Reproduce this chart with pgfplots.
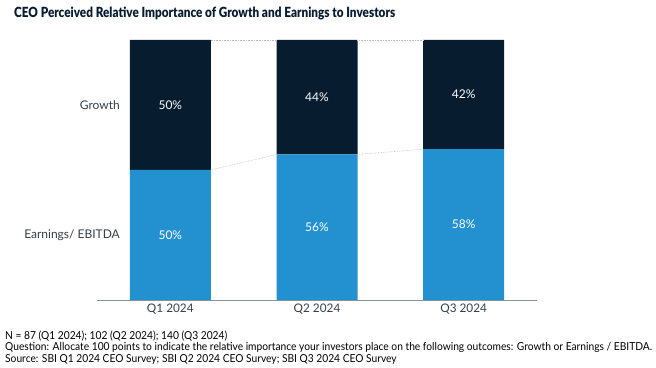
\documentclass[border=0pt]{standalone}
\usepackage{pgfplots}
\pgfplotsset{compat=1.18}
\usepackage{fontspec}
\setmainfont{Lato}
\newfontfamily\condfont[FakeStretch=0.93]{Lato}
\newfontfamily\titlefont[FakeStretch=0.84]{Lato Black}
\definecolor{navy}{HTML}{081C30}
\definecolor{sbiblue}{HTML}{2391D0}
\definecolor{txtgray}{HTML}{333F48}
\definecolor{axgray}{HTML}{8A939C}
\definecolor{conn}{HTML}{BBBBBB}
\begin{document}
\begin{tikzpicture}[x=1pt,y=1pt]
\path[use as bounding box] (0,0) rectangle (656,367);
\pgfplotsset{
  base/.style={
    at={(97pt,67pt)}, anchor=south west,
    width=440pt, height=260pt, scale only axis,
    xmin=-0.5, xmax=2.5, ymin=0, ymax=100, clip=false,
  }
}
\begin{axis}[base,
  ybar stacked, bar width=81pt,
  axis x line*=bottom, axis y line=none,
  x axis line style={draw=axgray, line width=0.9pt, -},
  xtick={0,1,2}, xticklabels={Q1 2024,Q2 2024,Q3 2024},
  xtick style={draw=none},
  xticklabel style={font=\fontsize{11.8}{13}\selectfont, text=txtgray, yshift=0pt},
  ytick=\empty,
]
\addplot[fill=sbiblue, draw=none] coordinates {(0,50) (1,56) (2,58)};
\addplot[fill=navy, draw=none] coordinates {(0,50) (1,44) (2,42)};
\end{axis}
\begin{axis}[base, hide axis]
% connectors
\addplot[conn, densely dotted, line width=0.6pt] coordinates {(0.276,100) (0.724,100)};
\addplot[conn, densely dotted, line width=0.6pt] coordinates {(1.276,100) (1.724,100)};
\addplot[conn, densely dotted, line width=0.6pt] coordinates {(0.276,50) (0.724,56)};
\addplot[conn, densely dotted, line width=0.6pt] coordinates {(1.276,56) (1.724,58)};
% data labels
\addplot[draw=none, mark=none, nodes near coords, point meta=explicit symbolic,
  every node near coord/.style={anchor=center, text=white, font=\fontsize{12}{13}\selectfont}]
  coordinates {(0,75)[50\%] (1,78)[44\%] (2,79)[42\%] (0,25)[50\%] (1,28)[56\%] (2,29)[58\%]};
% series labels
\addplot[draw=none, mark=none, nodes near coords, point meta=explicit symbolic,
  every node near coord/.style={anchor=east, inner xsep=0pt, text=txtgray, font=\fontsize{12}{13}\selectfont}]
  coordinates {(-0.343,75)[Growth] (-0.343,25)[Earnings/ EBITDA]};
\end{axis}
\node[anchor=west, inner sep=0pt, text=navy, font=\titlefont\fontsize{14}{16}\selectfont] at (14,354) {CEO Perceived Relative Importance of Growth and Earnings to Investors};
\node[anchor=west, inner sep=0pt, text=black, font=\condfont\fontsize{11}{12}\selectfont] at (5,31) {N = 87 (Q1 2024); 102 (Q2 2024); 140 (Q3 2024)};
\node[anchor=west, inner sep=0pt, text=black, font=\condfont\fontsize{11}{12}\selectfont] at (5,19.5) {Question: Allocate 100 points to indicate the relative importance your investors place on the following outcomes: Growth or Earnings / EBITDA.};
\node[anchor=west, inner sep=0pt, text=black, font=\condfont\fontsize{11}{12}\selectfont] at (5,8) {Source: SBI Q1 2024 CEO Survey; SBI Q2 2024 CEO Survey; SBI Q3 2024 CEO Survey};
\end{tikzpicture}
\end{document}
